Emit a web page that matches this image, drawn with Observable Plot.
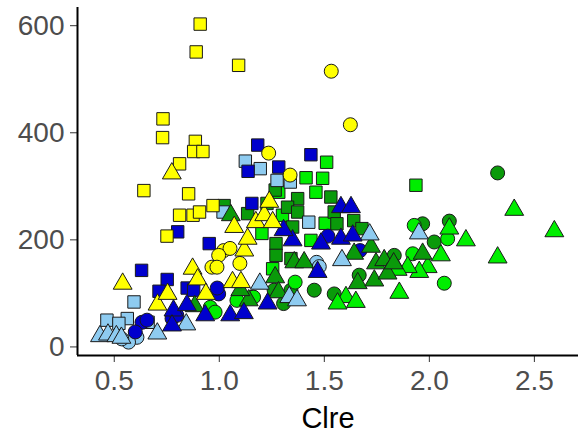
<!DOCTYPE html>
<html><head><meta charset="utf-8">
<script src="https://cdn.jsdelivr.net/npm/d3@7"></script>
<script src="https://cdn.jsdelivr.net/npm/@observablehq/plot@0.6"></script>
<style>body{margin:0;background:#fff;}</style>
</head><body><div id="chart"></div>
<script>
// ---- data (x = Clre, y = value) ----
const yellowSquares = [[0.909,603],[0.890,551],[1.092,526],[0.732,426],[0.730,391],[0.886,384],[0.878,365],[0.922,365],[0.811,342],[0.641,292],[0.854,286],[0.970,264],[0.811,246],[0.875,246],[0.906,252],[0.751,207]];
const yellowCircles = [[1.533,515],[1.624,415],[1.235,362],[1.337,321],[1.021,180],[1.051,184],[0.997,171],[0.965,149],[0.989,149],[1.098,156]];
const yellowTriangles = [[0.774,324],[0.540,118],[0.873,146],[0.897,126],[0.936,99],[0.706,79],[0.754,99],[1.063,121],[1.103,121],[1.119,180],[1.135,202],[1.174,233],[1.214,246],[1.238,271],[1.254,233],[1.071,224]];
const darkBlueSquares = [[1.183,377],[1.436,359],[1.283,336],[1.137,328],[1.155,268],[0.802,215],[0.952,193],[0.630,143],[0.752,126],[0.713,104],[0.847,110],[0.878,106]];
const darkBlueCircles = [[0.997,99],[0.632,46],[0.656,50],[0.600,28],[0.775,53],[0.798,59],[1.670,180],[1.517,207],[0.990,110]];
const darkBlueTriangles = [[0.782,68],[0.846,78],[0.933,59],[1.052,59],[1.117,63],[0.775,40],[1.230,81],[1.579,261],[1.627,261],[1.349,199],[1.484,193],[1.579,202],[1.635,208],[1.468,140],[1.306,218]];
const lightBlueSquares = [[1.124,347],[1.195,333],[1.275,311],[1.338,308],[1.426,233],[1.018,252],[0.594,84],[0.465,50],[0.562,53],[0.661,46],[0.522,44]];
const lightBlueCircles = [[0.608,18],[0.568,9],[0.536,15],[1.463,158],[1.476,150]];
const lightBlueTriangles = [[0.432,20],[0.470,23],[0.510,20],[0.534,17],[0.705,25],[0.843,42],[1.193,118],[1.333,93],[1.370,87],[1.584,162],[1.716,210],[1.950,212]];
const greenSquares = [[1.511,345],[1.413,316],[1.492,315],[1.460,289],[1.283,289],[1.504,231],[1.301,246],[1.203,212],[1.936,302],[1.436,199],[1.254,146]];
const darkGreenSquares = [[1.373,277],[1.531,280],[1.325,261],[1.349,224],[1.547,252],[1.023,264],[1.135,249],[1.270,193],[1.270,171],[1.341,165],[1.373,252],[1.266,293],[1.640,236],[1.679,221],[1.560,230],[1.227,268]];
const darkGreenCircles = [[2.325,325],[1.968,230],[2.095,235],[2.023,196],[1.452,106],[1.547,99],[1.666,134],[1.833,171],[1.306,81],[1.159,93],[1.261,106],[1.341,106]];
const greenCircles = [[1.928,227],[2.071,119],[1.921,174],[2.087,202],[1.163,93],[1.084,87],[1.361,121],[0.957,74],[0.980,65]];
const greenTriangles = [[2.404,256],[2.595,216],[2.325,167],[2.174,199],[2.095,221],[2.055,171],[1.992,149],[1.952,140],[1.897,149],[1.849,144],[1.857,101],[1.603,93],[1.563,81],[1.650,84]];
const darkGreenTriangles = [[1.642,174],[1.746,156],[1.785,162],[1.659,119],[1.738,124],[1.801,137],[1.722,187],[1.968,174],[1.357,158],[1.404,158],[1.266,130],[1.282,102],[1.830,156],[1.140,87],[1.055,246],[0.883,76],[1.100,106]];

// group keys (not CSS colour names, so the colour scale maps them)
const colorNames = ["grpBrightGreen","grpDarkGreen","grpLightBlue","grpDarkBlue","grpYellow"];
const colorValues = ["#00ee00","#0a9a0a","#8ecbf0","#0000cd","#ffff00"];
const shapeNames = ["square","circle","triangle"];
const xTicks = [0.5,1.0,1.5,2.0,2.5];
const yTicks = [0,200,400,600];
const xLabel = "Clre";

const groups = [
  ["grpBrightGreen","square",greenSquares],["grpDarkGreen","square",darkGreenSquares],
  ["grpLightBlue","square",lightBlueSquares],["grpDarkBlue","square",darkBlueSquares],["grpYellow","square",yellowSquares],
  ["grpDarkGreen","circle",darkGreenCircles],["grpBrightGreen","circle",greenCircles],
  ["grpLightBlue","circle",lightBlueCircles],["grpDarkBlue","circle",darkBlueCircles],["grpYellow","circle",yellowCircles],
  ["grpBrightGreen","triangle",greenTriangles],["grpDarkGreen","triangle",darkGreenTriangles],
  ["grpLightBlue","triangle",lightBlueTriangles],["grpDarkBlue","triangle",darkBlueTriangles],["grpYellow","triangle",yellowTriangles]
];
const data = [];
for (const [color, shape, pts] of groups) for (const [x, y] of pts) data.push({x, y, color, shape});

// custom symbols (sized from r)
const symSquare = {draw(ctx, size){const r=Math.sqrt(size/Math.PI), h=r*0.93; ctx.moveTo(-h,-h); ctx.lineTo(h,-h); ctx.lineTo(h,h); ctx.lineTo(-h,h); ctx.closePath();}};
const symCircle = {draw(ctx, size){const r=Math.sqrt(size/Math.PI); ctx.moveTo(r,0); ctx.arc(0,0,r,0,2*Math.PI);}};
const symTriangle = {draw(ctx, size){const r=Math.sqrt(size/Math.PI); ctx.moveTo(0,-1.55*r); ctx.lineTo(1.36*r,0.8*r); ctx.lineTo(-1.36*r,0.8*r); ctx.closePath();}};

const xDomain = [0.325, 2.71], yDomain = [-16, 634];
const font = "'Liberation Sans', Arial, sans-serif";

const chart = Plot.plot({
  width: 582, height: 436,
  marginLeft: 77, marginRight: 4, marginTop: 7, marginBottom: 81,
  style: {fontFamily: font, background: "#fff"},
  x: {domain: xDomain},
  y: {domain: yDomain},
  color: {domain: colorNames, range: colorValues},
  symbol: {domain: shapeNames, range: [symSquare, symCircle, symTriangle]},
  marks: [
    Plot.dot(data, {x: "x", y: "y", fill: "color", symbol: "shape", r: 7, stroke: "#1a1a1a", strokeWidth: 1}),
    Plot.axisX({ticks: xTicks, tickFormat: d => d.toFixed(1), tickSize: 7, tickPadding: 8, fontSize: 28, stroke: "#333", fill: "#4d4d4d", label: null}),
    Plot.axisX({ticks: [], label: xLabel, labelArrow: "none", labelAnchor: "center", labelOffset: 72, fontSize: 29, fill: "#000"}),
    Plot.axisY({ticks: yTicks, tickSize: 7, tickPadding: 6, fontSize: 28, stroke: "#333", fill: "#4d4d4d", label: null}),
    Plot.ruleX([xDomain[0]], {stroke: "#000", strokeWidth: 2}),
    Plot.ruleY([yDomain[0]], {stroke: "#000", strokeWidth: 2})
  ]
});
document.getElementById("chart").appendChild(chart);
</script>
</body></html>
